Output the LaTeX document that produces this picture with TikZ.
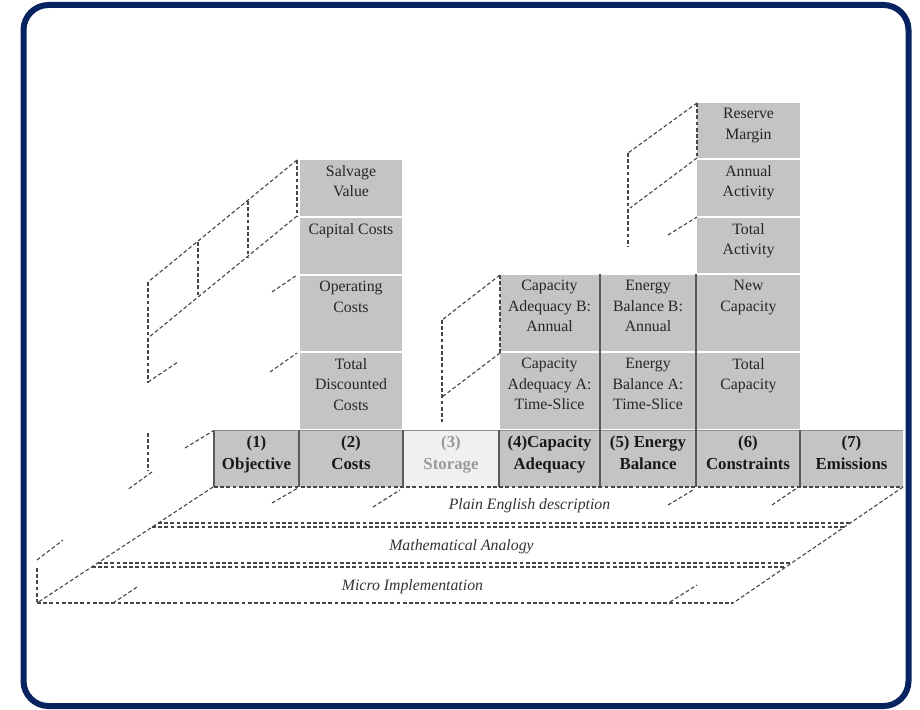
\documentclass[tikz,border=0pt]{standalone}
\usepackage{fontspec}
\setmainfont{Liberation Serif}
\usetikzlibrary{fit}
\definecolor{frameblue}{RGB}{8,36,96}
\definecolor{cellgray}{RGB}{196,196,196}
\definecolor{paleg}{RGB}{240,240,240}
\definecolor{dashc}{RGB}{70,70,70}

% one stacked cell: name, x1, y1, x2, y2, text (top aligned)
\newcommand\stackcell[6]{%
  \node[cell, fit={(#2,#3) (#4,#5)}] (#1) {};
  \node[txt, anchor=north] (#1-t) at ([yshift=-7pt]#1.north) {#6};
}
% one cell of the base row: name, x1, x2, text
\newcommand\basecell[4]{%
  \node[basebox, fit={(#2,430) (#3,487)}] (#1) {};
  \node[btxt, anchor=north] (#1-t) at ([yshift=-5.5pt]#1.north) {#4};
}

\begin{document}
\begin{tikzpicture}[x=1pt, y=-1pt,
  cell/.style={fill=cellgray, draw=white, line width=1.4pt, inner sep=0pt},
  basebox/.style={fill=cellgray, draw=none, inner sep=0pt},
  txt/.style={align=center, inner sep=0pt, text=black!85,
              font=\fontsize{15.8}{20.5}\selectfont},
  btxt/.style={align=center, inner sep=0pt, text=black!90,
               font=\bfseries\fontsize{16.8}{22}\selectfont},
  dsh/.style={draw=dashc, line width=1.1pt, dash pattern=on 3.8pt off 2.4pt},
  sepline/.style={draw=black!65, line width=1.4pt},
  frame/.style={draw=frameblue, line width=6pt, rounded corners=25pt},
  lbl/.style={font=\itshape\fontsize{15.8}{18}\selectfont, text=black!80, inner sep=0pt}]

\useasboundingbox (0,0) rectangle (920,709);
\draw[frame] (23.5,5) rectangle (908.5,706);

% ---- layered planes under the modules ----
\draw[dsh] (214,487) -- (903,487);
\draw[dsh] (158,523) -- (850,523);
\draw[dsh] (152,527) -- (844,527);
\draw[dsh] (98,563) -- (792,563);
\draw[dsh] (92,567) -- (786,567);
\draw[dsh] (37,603) -- (733,603);
\draw[dsh] (213,487) -- (37,603);
\draw[dsh] (903,487) -- (733,603);
\node[lbl] (pe) at (529.5,506) {Plain English description};
\node[lbl] (ma) at (461.5,547) {Mathematical Analogy};
\node[lbl] (mi) at (412.5,587) {Micro Implementation};

% depth stubs on the planes
\draw[dsh] (272,503) -- (298,488);
\draw[dsh] (373,507) -- (400,490);
\draw[dsh] (668,505) -- (693,490);
\draw[dsh] (772,505) -- (797,488);
\draw[dsh] (37,560) -- (63,540);
\draw[dsh] (37,568) -- (37,602);
\draw[dsh] (113,603) -- (137,587);
\draw[dsh] (670,602) -- (697,585);

% ---- base row of modules ----
\basecell{o1}{214}{299}{(1)\\Objective}
\basecell{o2}{299}{403}{(2)\\Costs}
\node[basebox, fill=paleg, fit={(403,430) (499,487)}] (o3) {};
\node[btxt, anchor=north, text=black!40] (o3-t) at ([yshift=-5.5pt]o3.north) {(3)\\Storage};
\basecell{o4}{499}{600}{(4)Capacity\\Adequacy}
\basecell{o5}{600}{696}{(5) Energy\\Balance}
\basecell{o6}{696}{800}{(6)\\Constraints}
\basecell{o7}{800}{903}{(7)\\Emissions}

% ---- costs column ----
\stackcell{tdc}{299}{352}{403}{430}{Total\\Discounted\\Costs}
\stackcell{opc}{299}{275}{403}{352}{Operating\\Costs}
\stackcell{cap}{299}{217}{403}{275}{Capital Costs}
\stackcell{sav}{299}{159}{403}{217}{Salvage\\Value}

% ---- capacity adequacy and energy balance columns ----
\stackcell{caa}{499}{352}{600}{430}{Capacity\\Adequacy A:\\Time-Slice}
\stackcell{cab}{499}{274}{600}{352}{Capacity\\Adequacy B:\\Annual}
\stackcell{eba}{600}{352}{696}{430}{Energy\\Balance A:\\Time-Slice}
\stackcell{ebb}{600}{274}{696}{352}{Energy\\Balance B:\\Annual}

% ---- constraints column ----
\stackcell{tca}{696}{352}{801}{430}{Total\\Capacity}
\stackcell{nca}{696}{274}{801}{352}{New\\Capacity}
\stackcell{tac}{696}{217}{801}{274}{Total\\Activity}
\stackcell{aac}{696}{159}{801}{217}{Annual\\Activity}
\stackcell{rma}{696}{102}{801}{159}{Reserve\\Margin}

% ---- module borders ----
\draw[draw=black!45, line width=0.9pt] (214,430) -- (903,430);
\draw[sepline] (214,430) -- (214,487);
\draw[sepline] (299,430) -- (299,487);
\draw[sepline] (403,430) -- (403,487);
\draw[sepline] (499,430) -- (499,487);
\draw[sepline] (600,274) -- (600,487);
\draw[sepline] (696,274) -- (696,487);
\draw[sepline] (800,430) -- (800,487);
\draw[dsh] (214,487) -- (903,487);

% ---- hidden edges behind the costs column ----
\draw[dsh] (297,160) -- (148,282);
\draw[dsh] (297,160) -- (297,216);
\draw[dsh] (297,216) -- (148,338);
\draw[dsh] (148,282) -- (148,383);
\draw[dsh] (248,201) -- (248,257);
\draw[dsh] (198,242) -- (198,297);
\draw[dsh] (272,292) -- (297,275);
\draw[dsh] (270,372) -- (297,353);
\draw[dsh] (148,382) -- (178,362);
\draw[dsh] (148,433) -- (148,471);
\draw[dsh] (152,472) -- (127,490);
\draw[dsh] (185,448) -- (213,431);

% ---- hidden edges behind the capacity adequacy column ----
\draw[dsh] (500,275) -- (442,320);
\draw[dsh] (500,275) -- (500,353);
\draw[dsh] (500,353) -- (442,397);
\draw[dsh] (442,320) -- (442,422);

% ---- hidden edges behind the constraints column ----
\draw[dsh] (697,103) -- (628,153);
\draw[dsh] (697,103) -- (697,158);
\draw[dsh] (697,158) -- (630,208);
\draw[dsh] (628,153) -- (628,247);
\draw[dsh] (668,235) -- (697,217);
\end{tikzpicture}
\end{document}
